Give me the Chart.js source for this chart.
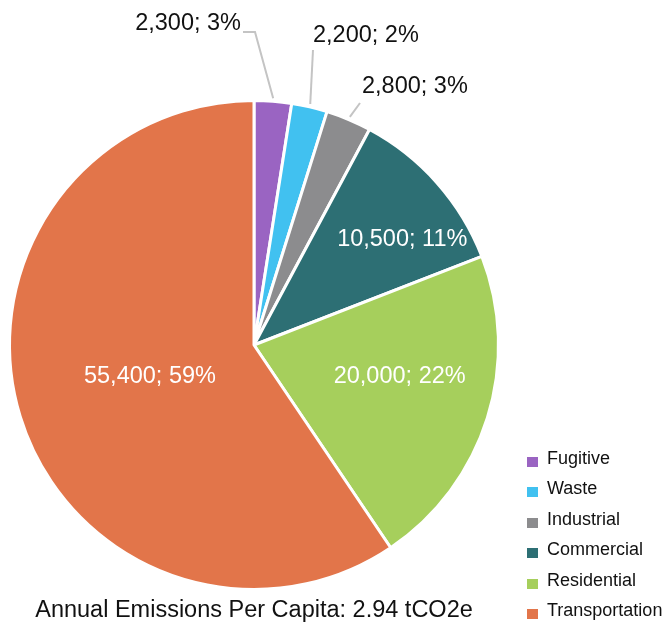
<!DOCTYPE html>
<html>
<head>
<meta charset="utf-8">
<script src="https://cdn.jsdelivr.net/npm/chart.js@4"></script>
<style>
  body { margin: 0; background: #fff; font-family: "Liberation Sans", Arial, sans-serif; }
  #wrap { position: relative; width: 666px; height: 626px; }
  #pie { position: absolute; left: 0; top: 0; }
  #caption { position: absolute; left: 0; width: 508px; top: 596px; text-align: center; font-size: 23.5px; color: #111; }
  #legend { position: absolute; left: 527px; top: 443px; margin: 0; padding: 0; list-style: none; font-size: 18px; color: #111; }
  #legend li { height: 30.4px; line-height: 30px; white-space: nowrap; position: relative; padding-left: 20px; }
  #legend li span { position: absolute; left: 0; top: 14px; width: 11px; height: 10px; }
</style>
</head>
<body>
<div id="wrap">
  <canvas id="pie" width="666" height="626"></canvas>
  <div id="caption">Annual Emissions Per Capita: 2.94 tCO2e</div>
  <ul id="legend"></ul>
</div>
<script>
// -------------------------
// Data
// -------------------------
const sectors = ['Fugitive', 'Waste', 'Industrial', 'Commercial', 'Residential', 'Transportation'];
const emissions = [2300, 2200, 2800, 10500, 20000, 55400];
const shares = [3, 2, 3, 11, 22, 59];
const sectorColors = ['#9a64c2', '#41c1f0', '#8c8c8e', '#2d6f74', '#a6cf5c', '#e2754a'];

// -------------------------
// Label placement (relative to pie centre)
// -------------------------
const insideLabels = {
    3: { r: 0.745, shift: 6 },
    4: { r: 0.61, shift: -5 },
    5: { r: 0.445, shift: 0 }
};
const outsideLabels = {
    0: { elbow: [1, -313], end: [-11, -313], text: [-13, -315], align: 'right' },
    1: { elbow: [59, -295], end: null, text: [59, -303], align: 'left' },
    2: { elbow: [106, -242], end: null, text: [108, -252], align: 'left' }
};

function labelText(i) {
    return emissions[i].toLocaleString('en-US') + '; ' + shares[i] + '%';
}

const pieLabels = {
    id: 'pieLabels',
    afterDatasetsDraw(chart) {
        const ctx = chart.ctx;
        const arcs = chart.getDatasetMeta(0).data;
        ctx.save();
        ctx.font = '23.5px "Liberation Sans", Arial, sans-serif';
        arcs.forEach((arc, i) => {
            const p = arc.getProps(['x', 'y', 'startAngle', 'endAngle', 'outerRadius'], true);
            const mid = (p.startAngle + p.endAngle) / 2;
            if (insideLabels[i]) {
                const cfg = insideLabels[i];
                const a = mid + cfg.shift * Math.PI / 180;
                ctx.fillStyle = '#ffffff';
                ctx.textAlign = 'center';
                ctx.textBaseline = 'middle';
                ctx.fillText(labelText(i), p.x + Math.cos(a) * p.outerRadius * cfg.r, p.y + Math.sin(a) * p.outerRadius * cfg.r);
            } else if (outsideLabels[i]) {
                const cfg = outsideLabels[i];
                const ex = p.x + Math.cos(mid) * (p.outerRadius + 3);
                const ey = p.y + Math.sin(mid) * (p.outerRadius + 3);
                ctx.strokeStyle = '#c4c4c4';
                ctx.lineWidth = 2;
                ctx.beginPath();
                ctx.moveTo(ex, ey);
                ctx.lineTo(p.x + cfg.elbow[0], p.y + cfg.elbow[1]);
                if (cfg.end) ctx.lineTo(p.x + cfg.end[0], p.y + cfg.end[1]);
                ctx.stroke();
                ctx.fillStyle = '#111111';
                ctx.textAlign = cfg.align;
                ctx.textBaseline = 'alphabetic';
                ctx.fillText(labelText(i), p.x + cfg.text[0], p.y + cfg.text[1]);
            }
        });
        ctx.restore();
    }
};

// -------------------------
// Pie chart
// -------------------------
const pieCtx = document.getElementById('pie').getContext('2d');
const pieChart = new Chart(pieCtx, {
    type: 'pie',
    data: {
        labels: sectors,
        datasets: [{
            data: emissions,
            backgroundColor: sectorColors,
            borderColor: '#ffffff',
            borderWidth: 3
        }]
    },
    options: {
        responsive: false,
        animation: false,
        layout: { padding: { left: 8, top: 99, right: 166, bottom: 35 } },
        plugins: { legend: { display: false }, tooltip: { enabled: false } }
    },
    plugins: [pieLabels]
});

// -------------------------
// Legend
// -------------------------
const legend = document.getElementById('legend');
sectors.forEach((name, i) => {
    const li = document.createElement('li');
    li.innerHTML = '<span style="background:' + sectorColors[i] + '"></span>' + name;
    legend.appendChild(li);
});
</script>
</body>
</html>
